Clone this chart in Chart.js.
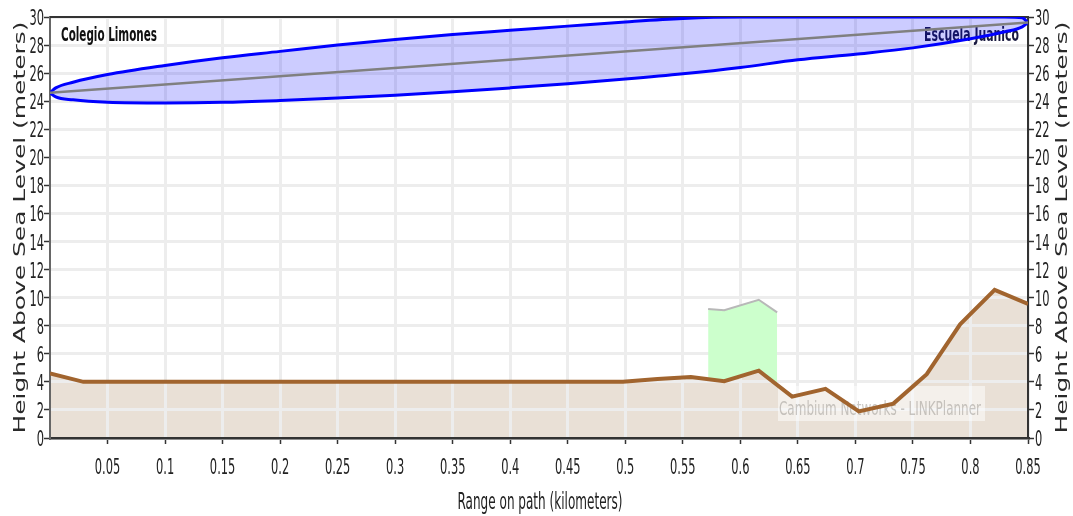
<!DOCTYPE html>
<html>
<head>
<meta charset="utf-8">
<title>Path profile</title>
<script src="https://cdn.jsdelivr.net/npm/chart.js@4.4.1/dist/chart.umd.min.js"></script>
<style>
  html, body { margin: 0; padding: 0; background: #fff; }
  canvas { display: block; }
</style>
</head>
<body>
<canvas id="profileChart" width="1073" height="516"></canvas>
<script>
// Ground profile along the path (km / metres above sea level)
const rangeKm = [0, 0.029, 0.059, 0.088, 0.117, 0.147, 0.176, 0.205, 0.234, 0.264,
  0.293, 0.322, 0.352, 0.381, 0.41, 0.44, 0.469, 0.498, 0.528, 0.557,
  0.586, 0.616, 0.645, 0.674, 0.703, 0.733, 0.762, 0.791, 0.821, 0.85];
const terrainM = [4.6, 4.0, 4.0, 4.0, 4.0, 4.0, 4.0, 4.0, 4.0, 4.0,
  4.0, 4.0, 4.0, 4.0, 4.0, 4.0, 4.0, 4.0, 4.2, 4.35,
  4.05, 4.8, 2.95, 3.5, 1.9, 2.45, 4.55, 8.1, 10.55, 9.55];

// Obstruction (trees) sitting on the ground
const obstacleKm = [0.572, 0.586, 0.616, 0.632];
const obstacleM = [9.2, 9.1, 9.85, 8.95];

// Line of sight between the two antennas
const losKm = [0, 0.85];
const losM = [24.6, 29.6];

// Fresnel zone outline
const fresnelKm = [0, 0.005, 0.02, 0.05, 0.1, 0.15, 0.2, 0.25, 0.3, 0.35, 0.4,
  0.45, 0.5, 0.55, 0.6, 0.65, 0.7, 0.75, 0.8, 0.83, 0.845, 0.85];
const fresnelTop = [24.6, 24.95, 25.35, 25.9, 26.55, 27.1, 27.55, 28.0, 28.4, 28.75, 29.05,
  29.35, 29.65, 29.9, 30, 30, 30, 30, 30, 30, 29.95, 29.6];
const fresnelBottom = [24.6, 24.3, 24.1, 23.93, 23.88, 23.92, 24.05, 24.22, 24.43, 24.67, 24.95,
  25.25, 25.58, 25.95, 26.4, 26.95, 27.35, 27.8, 28.45, 28.95, 29.3, 29.6];

// Axis ticks
const rangeTicks = [0.05, 0.1, 0.15, 0.2, 0.25, 0.3, 0.35, 0.4, 0.45, 0.5,
  0.55, 0.6, 0.65, 0.7, 0.75, 0.8, 0.85];
const heightTicks = [0, 2, 4, 6, 8, 10, 12, 14, 16, 18, 20, 22, 24, 26, 28, 30];

const siteA = 'Colegio Limones';
const siteB = 'Escuela Juanico';
const watermark = 'Cambium Networks - LINKPlanner';
const xTitle = 'Range on path (kilometers)';
const yTitle = 'Height Above Sea Level (meters)';

const FONT = '"DejaVu Sans", sans-serif';

function pairs(xs, ys) {
  return xs.map((x, i) => ({ x: x, y: ys[i] }));
}

// narrow text: draws at (x, y), optionally rotated, squeezed by sx/sy
function drawText(ctx, text, x, y, o) {
  ctx.save();
  ctx.translate(x, y);
  if (o.rotate) ctx.rotate(o.rotate);
  ctx.font = o.font;
  ctx.fillStyle = o.color || '#222';
  ctx.textAlign = 'left';
  ctx.textBaseline = o.baseline || 'alphabetic';
  let sx = o.sx || 1;
  const w = ctx.measureText(text).width;
  if (o.width) sx = o.width / w;
  ctx.scale(sx, o.sy || 1);
  let dx = 0;
  if (o.align === 'center') dx = -w / 2;
  if (o.align === 'right') dx = -w;
  ctx.fillText(text, dx, 0);
  ctx.restore();
}

// ground shading goes under the grid
const groundFill = {
  id: 'groundFill',
  beforeDraw(chart) {
    const { ctx, chartArea } = chart;
    const pts = chart.getDatasetMeta(0).data;
    if (!pts.length) return;
    const base = chart.scales.y.getPixelForValue(0);
    ctx.save();
    ctx.beginPath();
    ctx.rect(chartArea.left, chartArea.top, chartArea.right - chartArea.left, chartArea.bottom - chartArea.top);
    ctx.clip();
    ctx.beginPath();
    ctx.moveTo(pts[0].x, base);
    pts.forEach(p => ctx.lineTo(p.x, p.y));
    ctx.lineTo(pts[pts.length - 1].x, base);
    ctx.closePath();
    ctx.fillStyle = '#e9e0d6';
    ctx.fill();
    ctx.restore();
  }
};

// site names, watermark and top frame line, under the data lines
const annotations = {
  id: 'annotations',
  beforeDatasetsDraw(chart) {
    const { ctx, chartArea } = chart;
    ctx.save();
    ctx.fillStyle = 'rgba(255,255,255,0.5)';
    ctx.fillRect(778, 386, 207, 35);
    ctx.restore();
    drawText(ctx, watermark, 779, 415, { font: '19px ' + FONT, width: 202, color: 'rgba(150,145,140,0.5)' });

    drawText(ctx, siteA, 61, 41, { font: 'bold 20px ' + FONT, width: 96, color: '#111' });
    drawText(ctx, siteB, 1019, 41, { font: 'bold 20px ' + FONT, width: 95, align: 'right', color: '#1a1a40' });

    ctx.save();
    ctx.strokeStyle = '#333';
    ctx.lineWidth = 2;
    ctx.beginPath();
    ctx.moveTo(chartArea.left, chartArea.top);
    ctx.lineTo(chartArea.right, chartArea.top);
    ctx.stroke();
    ctx.restore();
  }
};

// tick labels and axis titles
const axisText = {
  id: 'axisText',
  afterDraw(chart) {
    const ctx = chart.ctx;
    const x = chart.scales.x;
    const y = chart.scales.y;
    const tickFont = '22px ' + FONT;
    rangeTicks.forEach(v => {
      drawText(ctx, String(v), x.getPixelForValue(v), 474, { font: tickFont, sx: 0.52, align: 'center' });
    });
    heightTicks.forEach(v => {
      const py = y.getPixelForValue(v) + 8;
      drawText(ctx, String(v), 44, py, { font: tickFont, sx: 0.52, align: 'right' });
      drawText(ctx, String(v), 1035, py, { font: tickFont, sx: 0.52 });
    });
    drawText(ctx, xTitle, 540, 509, { font: '23px ' + FONT, width: 165, align: 'center' });
    const mid = (y.top + y.bottom) / 2;
    const titleOpts = { font: '19px ' + FONT, width: 412, align: 'center', rotate: -Math.PI / 2, sy: 0.85, color: '#2a2a2a' };
    drawText(ctx, yTitle, 25, mid, titleOpts);
    drawText(ctx, yTitle, 1067, mid, titleOpts);
  }
};

const ctx = document.getElementById('profileChart').getContext('2d');

new Chart(ctx, {
  type: 'line',
  data: {
    datasets: [
      {
        label: 'Terrain',
        data: pairs(rangeKm, terrainM),
        borderColor: '#a1642e',
        borderWidth: 4,
        fill: false
      },
      {
        label: 'Obstruction',
        data: pairs(obstacleKm, obstacleM),
        borderColor: '#b8b8b8',
        borderWidth: 2,
        backgroundColor: '#ccffcc',
        fill: '-1'
      },
      {
        label: 'Line of sight',
        data: pairs(losKm, losM),
        borderColor: '#808080',
        borderWidth: 2.5,
        fill: false
      },
      {
        label: 'Fresnel top',
        data: pairs(fresnelKm, fresnelTop),
        borderColor: '#0000ff',
        borderWidth: 3,
        backgroundColor: 'rgba(0,0,255,0.2)',
        cubicInterpolationMode: 'monotone',
        fill: '+1'
      },
      {
        label: 'Fresnel bottom',
        data: pairs(fresnelKm, fresnelBottom),
        borderColor: '#0000ff',
        borderWidth: 3,
        cubicInterpolationMode: 'monotone',
        fill: false
      }
    ]
  },
  options: {
    responsive: false,
    animation: false,
    layout: { padding: { left: 44, right: 39, top: 17, bottom: 72 } },
    elements: { point: { radius: 0 }, line: { tension: 0 } },
    plugins: { legend: { display: false }, tooltip: { enabled: false } },
    scales: {
      x: {
        type: 'linear',
        min: 0,
        max: 0.85,
        afterBuildTicks: s => { s.ticks = rangeTicks.map(v => ({ value: v })); },
        ticks: { display: false },
        grid: { color: '#ededed', lineWidth: 3, tickColor: '#333', tickWidth: 1.5, tickLength: 6 },
        border: { color: '#333', width: 2.5 }
      },
      y: {
        position: 'left',
        min: 0,
        max: 30,
        afterBuildTicks: s => { s.ticks = heightTicks.map(v => ({ value: v })); },
        ticks: { display: false },
        grid: { color: '#ededed', lineWidth: 3, tickColor: '#333', tickWidth: 1.5, tickLength: 6 },
        border: { color: '#666', width: 2 }
      },
      y2: {
        position: 'right',
        min: 0,
        max: 30,
        afterBuildTicks: s => { s.ticks = heightTicks.map(v => ({ value: v })); },
        ticks: { display: false },
        grid: { drawOnChartArea: false, tickColor: '#333', tickWidth: 1.5, tickLength: 6 },
        border: { color: '#333', width: 2 }
      }
    }
  },
  plugins: [groundFill, annotations, axisText]
});
</script>
</body>
</html>
